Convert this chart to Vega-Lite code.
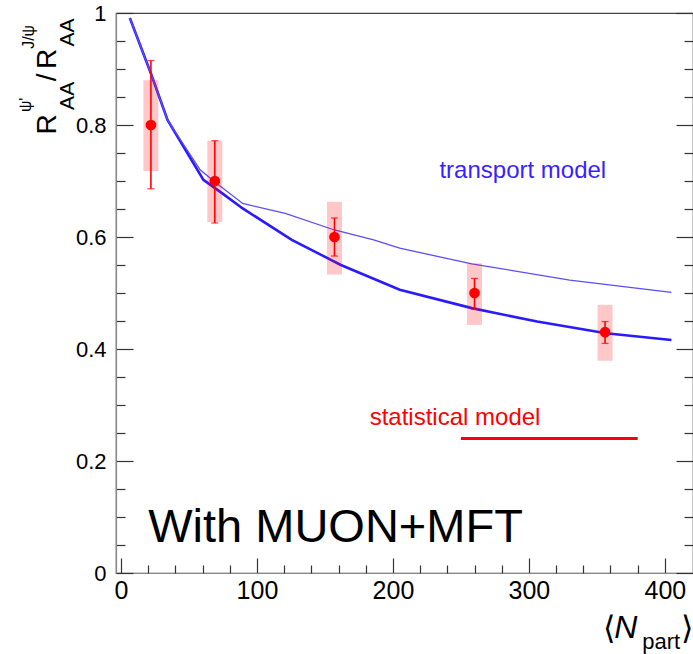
{
  "$schema": "https://vega.github.io/schema/vega-lite/v6.json",
  "width": 577,
  "height": 560,
  "autosize": {"type": "none"},
  "padding": {"left": 116, "top": 13, "right": 0, "bottom": 81},
  "background": "white",
  "config": {
    "view": {"stroke": "#444", "strokeWidth": 1.2},
    "font": "Liberation Sans"
  },
  "datasets": {
    "thick": [
      {"x": 6.5, "y": 0.991}, {"x": 22, "y": 0.892}, {"x": 34.2, "y": 0.809}, {"x": 60.6, "y": 0.702},
      {"x": 75, "y": 0.677}, {"x": 89.5, "y": 0.651}, {"x": 125.6, "y": 0.595}, {"x": 149.7, "y": 0.565},
      {"x": 161.7, "y": 0.55}, {"x": 205, "y": 0.506}, {"x": 258, "y": 0.473}, {"x": 306, "y": 0.449},
      {"x": 356.7, "y": 0.428}, {"x": 404.8, "y": 0.416}
    ],
    "thin": [
      {"x": 6.5, "y": 0.991}, {"x": 22, "y": 0.892}, {"x": 34.2, "y": 0.809}, {"x": 58.2, "y": 0.72},
      {"x": 68.6, "y": 0.699}, {"x": 89.5, "y": 0.66}, {"x": 120.8, "y": 0.642}, {"x": 157, "y": 0.6125},
      {"x": 185.8, "y": 0.595}, {"x": 205, "y": 0.58}, {"x": 258, "y": 0.552}, {"x": 330, "y": 0.523},
      {"x": 404.8, "y": 0.501}
    ],
    "points": [
      {"x": 22, "y": 0.80, "statlo": 0.686, "stathi": 0.915, "syslo": 0.718, "syshi": 0.880},
      {"x": 69, "y": 0.70, "statlo": 0.625, "stathi": 0.772, "syslo": 0.627, "syshi": 0.772},
      {"x": 157, "y": 0.60, "statlo": 0.566, "stathi": 0.634, "syslo": 0.533, "syshi": 0.663},
      {"x": 260, "y": 0.50, "statlo": 0.471, "stathi": 0.526, "syslo": 0.443, "syshi": 0.553},
      {"x": 356, "y": 0.43, "statlo": 0.41, "stathi": 0.449, "syslo": 0.379, "syshi": 0.479}
    ],
    "statmodel": [{"x": 250, "x2": 380, "y": 0.24}]
  },
  "resolve": {"axis": {"y": "independent", "x": "independent"}},
  "layer": [
    {
      "data": {"name": "thick"},
      "mark": {"type": "line", "color": "#2a1aff", "strokeWidth": 2.6},
      "encoding": {
        "x": {
          "field": "x", "type": "quantitative",
          "scale": {"domain": [0, 417], "nice": false, "zero": false},
          "axis": {
            "orient": "bottom", "title": null, "grid": false,
            "values": [0, 100, 200, 300, 400],
            "format": "d",
            "labelFont": "Liberation Sans", "labelFontSize": 25, "labelColor": "#000",
            "labelPadding": 20, "labelFlush": false, "labelOverlap": false,
            "domainColor": "#888", "domainWidth": 1.2,
            "tickColor": "#333", "tickWidth": 1.2, "tickSize": -15
          }
        },
        "y": {
          "field": "y", "type": "quantitative",
          "scale": {"domain": [0, 1], "nice": false, "zero": false},
          "axis": {
            "title": null, "grid": false,
            "values": [0,0.05,0.1,0.15,0.2,0.25,0.3,0.35,0.4,0.45,0.5,0.55,0.6,0.65,0.7,0.75,0.8,0.85,0.9,0.95,1],
            "labelExpr": "abs(datum.value*5 - round(datum.value*5)) < 0.000001 ? format(datum.value, '.1~f') : ''",
            "labelFont": "Liberation Sans", "labelFontSize": 22, "labelColor": "#000",
            "labelPadding": 27, "labelFlush": false, "labelOverlap": false,
            "domainColor": "#888", "domainWidth": 1.2,
            "tickColor": "#333", "tickWidth": 1.2,
            "tickSize": {"condition": {"test": "abs(datum.value*5 - round(datum.value*5)) < 0.000001", "value": -17}, "value": -9}
          }
        }
      }
    },
    {
      "data": {"name": "thin"},
      "mark": {"type": "line", "color": "#5b4dff", "strokeWidth": 1.3},
      "encoding": {
        "x": {
          "field": "x", "type": "quantitative",
          "axis": {
            "orient": "bottom", "title": null, "grid": false, "labels": false, "domain": false,
            "values": [20,40,60,80,120,140,160,180,220,240,260,280,320,340,360,380],
            "tickColor": "#333", "tickWidth": 1.2, "tickSize": -8
          }
        },
        "y": {
          "field": "y", "type": "quantitative",
          "axis": {
            "orient": "right", "title": null, "grid": false, "labels": false, "domain": false,
            "values": [0,0.05,0.1,0.15,0.2,0.25,0.3,0.35,0.4,0.45,0.5,0.55,0.6,0.65,0.7,0.75,0.8,0.85,0.9,0.95,1],
            "tickColor": "#333", "tickWidth": 1.2,
            "tickSize": {"condition": {"test": "abs(datum.value*5 - round(datum.value*5)) < 0.000001", "value": -17}, "value": -9}
          }
        }
      }
    },
    {
      "data": {"name": "points"},
      "mark": {"type": "bar", "color": "#ff0000", "opacity": 0.22, "size": 15},
      "encoding": {
        "x": {"field": "x", "type": "quantitative", "axis": null},
        "y": {"field": "syslo", "type": "quantitative", "axis": null},
        "y2": {"field": "syshi"}
      }
    },
    {
      "data": {"name": "points"},
      "mark": {"type": "rule", "color": "#ff0000", "strokeWidth": 1.6},
      "encoding": {
        "x": {"field": "x", "type": "quantitative", "axis": null},
        "y": {"field": "statlo", "type": "quantitative", "axis": null},
        "y2": {"field": "stathi"}
      }
    },
    {
      "data": {"name": "points"},
      "mark": {"type": "tick", "orient": "horizontal", "color": "#ff0000", "size": 7, "thickness": 1.3},
      "encoding": {
        "x": {"field": "x", "type": "quantitative", "axis": null},
        "y": {"field": "statlo", "type": "quantitative", "axis": null}
      }
    },
    {
      "data": {"name": "points"},
      "mark": {"type": "tick", "orient": "horizontal", "color": "#ff0000", "size": 7, "thickness": 1.3},
      "encoding": {
        "x": {"field": "x", "type": "quantitative", "axis": null},
        "y": {"field": "stathi", "type": "quantitative", "axis": null}
      }
    },
    {
      "data": {"name": "points"},
      "mark": {"type": "circle", "color": "#ff0000", "opacity": 1, "size": 115},
      "encoding": {
        "x": {"field": "x", "type": "quantitative", "axis": null},
        "y": {"field": "y", "type": "quantitative", "axis": null}
      }
    },
    {
      "data": {"name": "statmodel"},
      "mark": {"type": "rule", "color": "#ff0000", "strokeWidth": 3},
      "encoding": {
        "x": {"field": "x", "type": "quantitative", "axis": null},
        "x2": {"field": "x2"},
        "y": {"field": "y", "type": "quantitative", "axis": null}
      }
    },
    {
      "data": {"values": [{"x": 234.2, "y": 0.705, "label": "transport model"}]},
      "mark": {"type": "text", "color": "#3a1fff", "fontSize": 24, "font": "Liberation Sans", "align": "left", "baseline": "alphabetic"},
      "encoding": {
        "x": {"field": "x", "type": "quantitative", "axis": null},
        "y": {"field": "y", "type": "quantitative", "axis": null},
        "text": {"field": "label"}
      }
    },
    {
      "data": {"values": [{"x": 182.9, "y": 0.264, "label": "statistical model"}]},
      "mark": {"type": "text", "color": "#ff0000", "fontSize": 24, "font": "Liberation Sans", "align": "left", "baseline": "alphabetic"},
      "encoding": {
        "x": {"field": "x", "type": "quantitative", "axis": null},
        "y": {"field": "y", "type": "quantitative", "axis": null},
        "text": {"field": "label"}
      }
    },
    {
      "data": {"values": [{"x": 20, "y": 0.056, "label": "With MUON+MFT"}]},
      "mark": {"type": "text", "color": "#000", "fontSize": 47, "font": "Liberation Sans", "align": "left", "baseline": "alphabetic"},
      "encoding": {
        "x": {"field": "x", "type": "quantitative", "axis": null},
        "y": {"field": "y", "type": "quantitative", "axis": null},
        "text": {"field": "label"}
      }
    },
    {
      "data": {"values": [{"x": 354.5, "y": -0.118, "label": "⟨"}, {"x": 411.8, "y": -0.118, "label": "⟩"}]},
      "mark": {"type": "text", "color": "#000", "fontSize": 32, "font": "DejaVu Sans", "align": "left", "baseline": "alphabetic"},
      "encoding": {
        "x": {"field": "x", "type": "quantitative", "axis": null},
        "y": {"field": "y", "type": "quantitative", "axis": null},
        "text": {"field": "label"}
      }
    },
    {
      "data": {"values": [{"x": 362.8, "y": -0.116, "label": "N"}]},
      "mark": {"type": "text", "color": "#000", "fontSize": 32, "font": "Liberation Sans", "fontStyle": "italic", "align": "left", "baseline": "alphabetic"},
      "encoding": {
        "x": {"field": "x", "type": "quantitative", "axis": null},
        "y": {"field": "y", "type": "quantitative", "axis": null},
        "text": {"field": "label"}
      }
    },
    {
      "data": {"values": [{"x": 383.3, "y": -0.1357, "label": "part"}]},
      "mark": {"type": "text", "color": "#000", "fontSize": 22, "font": "Liberation Sans", "align": "left", "baseline": "alphabetic"},
      "encoding": {
        "x": {"field": "x", "type": "quantitative", "axis": null},
        "y": {"field": "y", "type": "quantitative", "axis": null},
        "text": {"field": "label"}
      }
    },
    {
      "data": {"values": [{"x": -47.7, "y": 0.783, "label": "R"}, {"x": -47.7, "y": 0.878, "label": "/"}, {"x": -47.7, "y": 0.9, "label": "R"}]},
      "mark": {"type": "text", "color": "#000", "fontSize": 28, "font": "Liberation Sans", "angle": 270, "align": "left", "baseline": "alphabetic"},
      "encoding": {
        "x": {"field": "x", "type": "quantitative", "axis": null},
        "y": {"field": "y", "type": "quantitative", "axis": null},
        "text": {"field": "label"}
      }
    },
    {
      "data": {"values": [{"x": -34.3, "y": 0.827, "label": "AA"}, {"x": -34.3, "y": 0.94, "label": "AA"}]},
      "mark": {"type": "text", "color": "#000", "fontSize": 21, "font": "Liberation Sans", "angle": 270, "align": "left", "baseline": "alphabetic"},
      "encoding": {
        "x": {"field": "x", "type": "quantitative", "axis": null},
        "y": {"field": "y", "type": "quantitative", "axis": null},
        "text": {"field": "label"}
      }
    },
    {
      "data": {"values": [{"x": -66.5, "y": 0.823, "label": "ψ'"}, {"x": -64, "y": 0.936, "label": "J/ψ"}]},
      "mark": {"type": "text", "color": "#000", "fontSize": 16, "font": "Liberation Sans", "angle": 270, "align": "left", "baseline": "alphabetic"},
      "encoding": {
        "x": {"field": "x", "type": "quantitative", "axis": null},
        "y": {"field": "y", "type": "quantitative", "axis": null},
        "text": {"field": "label"}
      }
    }
  ]
}
